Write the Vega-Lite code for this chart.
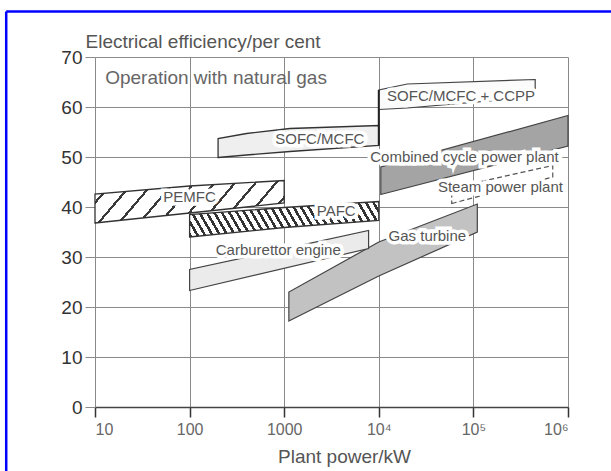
{
  "$schema": "https://vega.github.io/schema/vega-lite/v6.json",
  "autosize": "none",
  "width": 473,
  "height": 350,
  "padding": {"left": 95, "top": 57, "right": 43, "bottom": 64},
  "background": "#ffffff",
  "config": {"view": {"stroke": null}, "font": "Liberation Sans"},
  "datasets": {
    "bands": [
      {"band": "PEMFC", "x": 10, "y": 36.8, "y2": 42.6},
      {"band": "PEMFC", "x": 100, "y": 38.8, "y2": 44.2},
      {"band": "PEMFC", "x": 1000, "y": 40.8, "y2": 45.3},
      {"band": "PAFC", "x": 100, "y": 34.0, "y2": 38.5},
      {"band": "PAFC", "x": 1000, "y": 35.9, "y2": 39.9},
      {"band": "PAFC", "x": 10000, "y": 37.3, "y2": 41.1},
      {"band": "SOFC/MCFC", "x": 200, "y": 49.9, "y2": 53.7},
      {"band": "SOFC/MCFC", "x": 400, "y": 50.4, "y2": 54.7},
      {"band": "SOFC/MCFC", "x": 1150, "y": 51.1, "y2": 55.7},
      {"band": "SOFC/MCFC", "x": 10000, "y": 52.3, "y2": 56.3},
      {"band": "SOFC/MCFC + CCPP", "x": 10000, "y": 59.5, "y2": 63.4},
      {"band": "SOFC/MCFC + CCPP", "x": 20000, "y": 59.8, "y2": 64.6},
      {"band": "SOFC/MCFC + CCPP", "x": 450000, "y": 62.0, "y2": 65.5},
      {"band": "Combined cycle power plant", "x": 10500, "y": 42.5, "y2": 48.0},
      {"band": "Combined cycle power plant", "x": 1000000, "y": 52.2, "y2": 58.3},
      {"band": "Steam power plant", "x": 59000, "y": 40.7, "y2": 43.8},
      {"band": "Steam power plant", "x": 690000, "y": 46.0, "y2": 48.3},
      {"band": "Gas turbine", "x": 1120, "y": 17.2, "y2": 23.0},
      {"band": "Gas turbine", "x": 10000, "y": 26.2, "y2": 33.0},
      {"band": "Gas turbine", "x": 110000, "y": 35.0, "y2": 40.6},
      {"band": "Carburettor engine", "x": 100, "y": 23.3, "y2": 27.5},
      {"band": "Carburettor engine", "x": 7800, "y": 31.7, "y2": 35.3}
    ],
    "connector": [
      {"x": 10000, "y": 52.3, "y2": 63.4}
    ],
    "frameV": [
      {"x": 1.152, "y": 79.1, "y2": -20}
    ],
    "frameH": [
      {"x": 1.152, "x2": 10000000, "y": 79.1}
    ],
    "labels": [
      {"text": "PEMFC", "x": 100, "y": 42.0},
      {"text": "PAFC", "x": 3550, "y": 39.3},
      {"text": "SOFC/MCFC", "x": 2380, "y": 53.7},
      {"text": "SOFC/MCFC + CCPP", "x": 74000, "y": 62.3},
      {"text": "Combined cycle power plant", "x": 80400, "y": 50.0},
      {"text": "Steam power plant", "x": 193000, "y": 44.0},
      {"text": "Gas turbine", "x": 32600, "y": 34.3},
      {"text": "Carburettor engine", "x": 865, "y": 31.5}
    ],
    "notes": [
      {"text": "Operation with natural gas", "x": 12.8, "y": 65.8}
    ]
  },
  "encoding": {
    "x": {
      "field": "x",
      "type": "quantitative",
      "scale": {"type": "log", "domain": [10, 1000000]},
      "axis": {
        "values": [10, 100, 1000, 10000, 100000, 1000000],
        "format": "d",
        "labelExpr": "datum.value == 10000 ? '10⁴' : datum.value == 100000 ? '10⁵' : datum.value == 1000000 ? '10⁶' : datum.label",
        "grid": true,
        "gridColor": "#8a8a8a",
        "gridWidth": 1,
        "tickSize": 10,
        "tickColor": "#333333",
        "tickWidth": 1.5,
        "domainColor": "#444444",
        "domainWidth": 1.5,
        "labelFontSize": 16,
        "labelColor": "#666666",
        "labelPadding": 4,
        "title": "Plant power/kW",
        "titleFontSize": 19,
        "titleFontWeight": "normal",
        "titleColor": "#555555",
        "titleX": 249,
        "titleY": 55,
        "titleAlign": "center",
        "titleBaseline": "alphabetic"
      }
    },
    "y": {
      "field": "y",
      "type": "quantitative",
      "scale": {"domain": [0, 70], "nice": false, "zero": false},
      "axis": {
        "values": [0, 10, 20, 30, 40, 50, 60, 70],
        "grid": true,
        "gridColor": "#8a8a8a",
        "gridWidth": 1,
        "tickSize": 10,
        "tickColor": "#8a8a8a",
        "domain": false,
        "labelFontSize": 19,
        "labelColor": "#333333",
        "labelPadding": 3,
        "title": "Electrical efficiency/per cent",
        "titleAngle": 0,
        "titleAlign": "left",
        "titleBaseline": "alphabetic",
        "titleX": -10,
        "titleY": -10,
        "titleFontSize": 19,
        "titleFontWeight": "normal",
        "titleColor": "#555555"
      }
    }
  },
  "layer": [
    {
      "data": {"name": "bands"},
      "transform": [{"filter": "datum.band === 'PEMFC'"}],
      "mark": {
        "type": "area", "stroke": "#333333", "strokeWidth": 1.3,
        "fill": {
          "gradient": "linear", "x1": 0, "y1": 0, "x2": 1.15, "y2": 0.22,
          "stops": [
            {"offset": 0, "color": "#ffffff"},
            {"offset": 0.078, "color": "#ffffff"}, {"offset": 0.078, "color": "#3a3a3a"}, {"offset": 0.0909, "color": "#3a3a3a"}, {"offset": 0.0909, "color": "#ffffff"},
            {"offset": 0.1688, "color": "#ffffff"}, {"offset": 0.1688, "color": "#3a3a3a"}, {"offset": 0.1818, "color": "#3a3a3a"}, {"offset": 0.1818, "color": "#ffffff"},
            {"offset": 0.2597, "color": "#ffffff"}, {"offset": 0.2597, "color": "#3a3a3a"}, {"offset": 0.2727, "color": "#3a3a3a"}, {"offset": 0.2727, "color": "#ffffff"},
            {"offset": 0.3506, "color": "#ffffff"}, {"offset": 0.3506, "color": "#3a3a3a"}, {"offset": 0.3636, "color": "#3a3a3a"}, {"offset": 0.3636, "color": "#ffffff"},
            {"offset": 0.4415, "color": "#ffffff"}, {"offset": 0.4415, "color": "#3a3a3a"}, {"offset": 0.4545, "color": "#3a3a3a"}, {"offset": 0.4545, "color": "#ffffff"},
            {"offset": 0.5324, "color": "#ffffff"}, {"offset": 0.5324, "color": "#3a3a3a"}, {"offset": 0.5455, "color": "#3a3a3a"}, {"offset": 0.5455, "color": "#ffffff"},
            {"offset": 0.6233, "color": "#ffffff"}, {"offset": 0.6233, "color": "#3a3a3a"}, {"offset": 0.6364, "color": "#3a3a3a"}, {"offset": 0.6364, "color": "#ffffff"},
            {"offset": 0.7142, "color": "#ffffff"}, {"offset": 0.7142, "color": "#3a3a3a"}, {"offset": 0.7273, "color": "#3a3a3a"}, {"offset": 0.7273, "color": "#ffffff"},
            {"offset": 0.8051, "color": "#ffffff"}, {"offset": 0.8051, "color": "#3a3a3a"}, {"offset": 0.8182, "color": "#3a3a3a"}, {"offset": 0.8182, "color": "#ffffff"},
            {"offset": 0.896, "color": "#ffffff"}, {"offset": 0.896, "color": "#3a3a3a"}, {"offset": 0.9091, "color": "#3a3a3a"}, {"offset": 0.9091, "color": "#ffffff"},
            {"offset": 0.9869, "color": "#ffffff"}, {"offset": 0.9869, "color": "#3a3a3a"}, {"offset": 1, "color": "#3a3a3a"}
          ]
        }
      },
      "encoding": {"y2": {"field": "y2"}}
    },
    {
      "data": {"name": "bands"},
      "transform": [{"filter": "datum.band === 'PAFC'"}],
      "mark": {
        "type": "area", "stroke": "#333333", "strokeWidth": 1.3,
        "fill": {
          "gradient": "linear", "x1": 0, "y1": 1, "x2": 1.096, "y2": 0.881,
          "stops": [
            {"offset": 0, "color": "#333333"}, {"offset": 0.014, "color": "#333333"}, {"offset": 0.014, "color": "#ffffff"},
            {"offset": 0.0357, "color": "#ffffff"}, {"offset": 0.0357, "color": "#333333"}, {"offset": 0.0497, "color": "#333333"}, {"offset": 0.0497, "color": "#ffffff"},
            {"offset": 0.0714, "color": "#ffffff"}, {"offset": 0.0714, "color": "#333333"}, {"offset": 0.0854, "color": "#333333"}, {"offset": 0.0854, "color": "#ffffff"},
            {"offset": 0.1071, "color": "#ffffff"}, {"offset": 0.1071, "color": "#333333"}, {"offset": 0.1211, "color": "#333333"}, {"offset": 0.1211, "color": "#ffffff"},
            {"offset": 0.1429, "color": "#ffffff"}, {"offset": 0.1429, "color": "#333333"}, {"offset": 0.1569, "color": "#333333"}, {"offset": 0.1569, "color": "#ffffff"},
            {"offset": 0.1786, "color": "#ffffff"}, {"offset": 0.1786, "color": "#333333"}, {"offset": 0.1926, "color": "#333333"}, {"offset": 0.1926, "color": "#ffffff"},
            {"offset": 0.2143, "color": "#ffffff"}, {"offset": 0.2143, "color": "#333333"}, {"offset": 0.2283, "color": "#333333"}, {"offset": 0.2283, "color": "#ffffff"},
            {"offset": 0.25, "color": "#ffffff"}, {"offset": 0.25, "color": "#333333"}, {"offset": 0.264, "color": "#333333"}, {"offset": 0.264, "color": "#ffffff"},
            {"offset": 0.2857, "color": "#ffffff"}, {"offset": 0.2857, "color": "#333333"}, {"offset": 0.2997, "color": "#333333"}, {"offset": 0.2997, "color": "#ffffff"},
            {"offset": 0.3214, "color": "#ffffff"}, {"offset": 0.3214, "color": "#333333"}, {"offset": 0.3354, "color": "#333333"}, {"offset": 0.3354, "color": "#ffffff"},
            {"offset": 0.3571, "color": "#ffffff"}, {"offset": 0.3571, "color": "#333333"}, {"offset": 0.3711, "color": "#333333"}, {"offset": 0.3711, "color": "#ffffff"},
            {"offset": 0.3929, "color": "#ffffff"}, {"offset": 0.3929, "color": "#333333"}, {"offset": 0.4069, "color": "#333333"}, {"offset": 0.4069, "color": "#ffffff"},
            {"offset": 0.4286, "color": "#ffffff"}, {"offset": 0.4286, "color": "#333333"}, {"offset": 0.4426, "color": "#333333"}, {"offset": 0.4426, "color": "#ffffff"},
            {"offset": 0.4643, "color": "#ffffff"}, {"offset": 0.4643, "color": "#333333"}, {"offset": 0.4783, "color": "#333333"}, {"offset": 0.4783, "color": "#ffffff"},
            {"offset": 0.5, "color": "#ffffff"}, {"offset": 0.5, "color": "#333333"}, {"offset": 0.514, "color": "#333333"}, {"offset": 0.514, "color": "#ffffff"},
            {"offset": 0.5357, "color": "#ffffff"}, {"offset": 0.5357, "color": "#333333"}, {"offset": 0.5497, "color": "#333333"}, {"offset": 0.5497, "color": "#ffffff"},
            {"offset": 0.5714, "color": "#ffffff"}, {"offset": 0.5714, "color": "#333333"}, {"offset": 0.5854, "color": "#333333"}, {"offset": 0.5854, "color": "#ffffff"},
            {"offset": 0.6071, "color": "#ffffff"}, {"offset": 0.6071, "color": "#333333"}, {"offset": 0.6211, "color": "#333333"}, {"offset": 0.6211, "color": "#ffffff"},
            {"offset": 0.6429, "color": "#ffffff"}, {"offset": 0.6429, "color": "#333333"}, {"offset": 0.6569, "color": "#333333"}, {"offset": 0.6569, "color": "#ffffff"},
            {"offset": 0.6786, "color": "#ffffff"}, {"offset": 0.6786, "color": "#333333"}, {"offset": 0.6926, "color": "#333333"}, {"offset": 0.6926, "color": "#ffffff"},
            {"offset": 0.7143, "color": "#ffffff"}, {"offset": 0.7143, "color": "#333333"}, {"offset": 0.7283, "color": "#333333"}, {"offset": 0.7283, "color": "#ffffff"},
            {"offset": 0.75, "color": "#ffffff"}, {"offset": 0.75, "color": "#333333"}, {"offset": 0.764, "color": "#333333"}, {"offset": 0.764, "color": "#ffffff"},
            {"offset": 0.7857, "color": "#ffffff"}, {"offset": 0.7857, "color": "#333333"}, {"offset": 0.7997, "color": "#333333"}, {"offset": 0.7997, "color": "#ffffff"},
            {"offset": 0.8214, "color": "#ffffff"}, {"offset": 0.8214, "color": "#333333"}, {"offset": 0.8354, "color": "#333333"}, {"offset": 0.8354, "color": "#ffffff"},
            {"offset": 0.8571, "color": "#ffffff"}, {"offset": 0.8571, "color": "#333333"}, {"offset": 0.8711, "color": "#333333"}, {"offset": 0.8711, "color": "#ffffff"},
            {"offset": 0.8929, "color": "#ffffff"}, {"offset": 0.8929, "color": "#333333"}, {"offset": 0.9069, "color": "#333333"}, {"offset": 0.9069, "color": "#ffffff"},
            {"offset": 0.9286, "color": "#ffffff"}, {"offset": 0.9286, "color": "#333333"}, {"offset": 0.9426, "color": "#333333"}, {"offset": 0.9426, "color": "#ffffff"},
            {"offset": 0.9643, "color": "#ffffff"}, {"offset": 0.9643, "color": "#333333"}, {"offset": 0.9783, "color": "#333333"}, {"offset": 0.9783, "color": "#ffffff"},
            {"offset": 1, "color": "#ffffff"}
          ]
        }
      },
      "encoding": {"y2": {"field": "y2"}}
    },
    {
      "data": {"name": "bands"},
      "transform": [{"filter": "datum.band === 'SOFC/MCFC'"}],
      "mark": {"type": "area", "fill": "#efefef", "stroke": "#333333", "strokeWidth": 1.3},
      "encoding": {"y2": {"field": "y2"}}
    },
    {
      "data": {"name": "bands"},
      "transform": [{"filter": "datum.band === 'SOFC/MCFC + CCPP'"}],
      "mark": {"type": "area", "fill": "#fbfbfb", "stroke": "#444444", "strokeWidth": 1.2},
      "encoding": {"y2": {"field": "y2"}}
    },
    {
      "data": {"name": "bands"},
      "transform": [{"filter": "datum.band === 'Combined cycle power plant'"}],
      "mark": {"type": "area", "fill": "#a4a4a4", "stroke": "#444444", "strokeWidth": 1.2},
      "encoding": {"y2": {"field": "y2"}}
    },
    {
      "data": {"name": "bands"},
      "transform": [{"filter": "datum.band === 'Steam power plant'"}],
      "mark": {"type": "area", "fill": "#ffffff", "fillOpacity": 0, "stroke": "#555555", "strokeWidth": 1.2, "strokeDash": [5, 3]},
      "encoding": {"y2": {"field": "y2"}}
    },
    {
      "data": {"name": "bands"},
      "transform": [{"filter": "datum.band === 'Gas turbine'"}],
      "mark": {"type": "area", "fill": "#c2c2c2", "stroke": "#444444", "strokeWidth": 1.2},
      "encoding": {"y2": {"field": "y2"}}
    },
    {
      "data": {"name": "bands"},
      "transform": [{"filter": "datum.band === 'Carburettor engine'"}],
      "mark": {"type": "area", "fill": "#ebebeb", "stroke": "#444444", "strokeWidth": 1.2},
      "encoding": {"y2": {"field": "y2"}}
    },
    {
      "data": {"name": "connector"},
      "mark": {"type": "rule", "color": "#222222", "strokeWidth": 2},
      "encoding": {"y2": {"field": "y2"}}
    },
    {
      "data": {"name": "labels"},
      "mark": {"type": "text", "fontSize": 15, "align": "center", "baseline": "middle", "fill": "#ffffff", "stroke": "#ffffff", "strokeWidth": 7},
      "encoding": {"text": {"field": "text"}}
    },
    {
      "data": {"name": "labels"},
      "mark": {"type": "text", "fontSize": 15, "align": "center", "baseline": "middle", "color": "#555555"},
      "encoding": {"text": {"field": "text"}}
    },
    {
      "data": {"name": "notes"},
      "mark": {"type": "text", "fontSize": 19, "align": "left", "baseline": "middle", "color": "#666666"},
      "encoding": {"text": {"field": "text"}}
    },
    {
      "data": {"name": "frameV"},
      "mark": {"type": "rule", "color": "#0000ff", "strokeWidth": 2.5, "clip": false},
      "encoding": {"y2": {"field": "y2"}}
    },
    {
      "data": {"name": "frameH"},
      "mark": {"type": "rule", "color": "#0000ff", "strokeWidth": 2.5, "clip": false},
      "encoding": {"x2": {"field": "x2"}}
    }
  ]
}
